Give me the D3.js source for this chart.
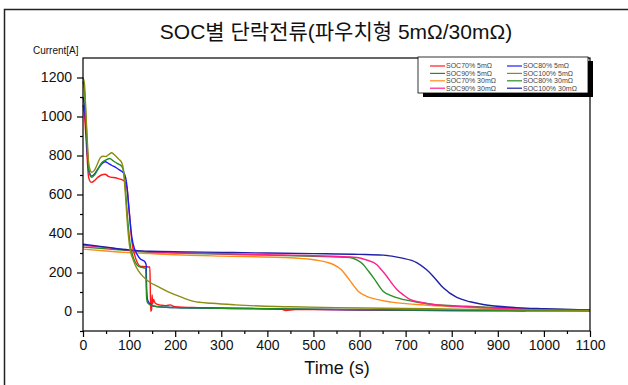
<!DOCTYPE html>
<html>
<head>
<meta charset="utf-8">
<script src="https://cdn.jsdelivr.net/npm/d3@7"></script>
<style>
  body { margin: 0; background: #fff; }
  svg { display: block; font-family: "Liberation Sans", Arial, "Noto Sans CJK KR", sans-serif; }
</style>
</head>
<body>
<div id="chart"></div>
<script>
// time (s) / current (A), one pair of arrays per curve
const t70_5 = [0, 3, 6, 9, 12, 16, 19, 25, 32, 40, 48, 55, 62, 70, 78, 84, 90, 95, 100, 106, 112, 118, 124, 135, 145, 146, 147, 149, 150, 151, 153, 156, 160, 170, 180, 190, 195, 200, 250, 300, 400, 430, 440, 460, 500, 600, 700, 800, 900, 960];
const i70_5 = [1060, 1010, 910, 790, 690, 665, 662, 672, 688, 700, 704, 693, 688, 686, 680, 676, 668, 640, 520, 360, 290, 250, 232, 230, 228, 120, 0, 12, 85, 40, 62, 45, 38, 32, 30, 34, 28, 25, 20, 17, 14, 12, 5, 10, 10, 8, 6, 4, 3, 3];

const t80_5 = [0, 3, 6, 9, 12, 16, 19, 25, 32, 40, 48, 55, 62, 70, 78, 84, 90, 95, 100, 106, 112, 118, 124, 130, 134, 137, 138, 140, 145, 150, 160, 180, 200, 300, 400, 500, 600, 700, 800, 900, 1000, 1100];
const i80_5 = [1100, 1060, 960, 830, 730, 700, 694, 705, 730, 755, 768, 760, 750, 740, 728, 719, 705, 650, 520, 380, 320, 290, 270, 262, 256, 240, 120, 60, 40, 30, 25, 22, 20, 17, 14, 11, 9, 7, 6, 5, 4, 4];

const t90_5 = [0, 3, 6, 9, 12, 16, 19, 25, 32, 40, 48, 58, 66, 74, 84, 88, 92, 97, 102, 108, 114, 120, 128, 136, 137, 138, 140, 145, 150, 160, 180, 200, 300, 400, 500, 600, 700, 800, 900, 1000, 1100];
const i90_5 = [1180, 1140, 1010, 860, 740, 695, 688, 700, 728, 760, 775, 785, 772, 760, 745, 720, 630, 470, 350, 285, 250, 232, 226, 222, 150, 70, 45, 35, 30, 25, 22, 20, 17, 14, 12, 10, 8, 7, 6, 5, 4];

const t100_5 = [0, 3, 6, 9, 12, 16, 19, 25, 32, 38, 44, 50, 56, 62, 70, 78, 84, 88, 92, 97, 102, 108, 114, 120, 130, 145, 167, 190, 215, 240, 280, 330, 384, 450, 550, 650, 750, 850, 950, 1050, 1100];
const i100_5 = [1200, 1170, 1040, 890, 770, 722, 714, 725, 760, 790, 796, 795, 805, 814, 800, 780, 764, 720, 600, 430, 320, 270, 235, 210, 180, 150, 123, 95, 72, 52, 42, 34, 28, 24, 20, 17, 14, 11, 9, 7, 6];

const t70_30 = [0, 50, 100, 145, 200, 300, 434, 507, 530, 543, 560, 572, 585, 597, 615, 637, 670, 724, 796, 870, 950, 1000];
const i70_30 = [320, 310, 302, 297, 291, 284, 277, 263, 252, 241, 215, 181, 140, 104, 78, 62, 48, 36, 26, 18, 12, 10];

const t80_30 = [0, 50, 100, 145, 200, 300, 400, 500, 579, 595, 608, 620, 630, 651, 670, 688, 720, 760, 832, 900, 1000, 1100];
const i80_30 = [330, 322, 312, 304, 300, 294, 289, 283, 277, 263, 241, 205, 174, 104, 80, 66, 50, 36, 27, 20, 12, 8];

const t90_30 = [0, 50, 100, 145, 200, 300, 400, 500, 594, 615, 637, 648, 659, 670, 681, 695, 709, 735, 760, 832, 900, 1000, 1100];
const i90_30 = [340, 328, 315, 306, 302, 296, 291, 286, 277, 264, 241, 212, 181, 145, 113, 85, 62, 46, 36, 24, 17, 11, 8];

const t100_30 = [0, 50, 100, 145, 228, 300, 400, 500, 600, 651, 690, 724, 745, 760, 781, 811, 840, 868, 941, 1000, 1050, 1100];
const i100_30 = [345, 330, 316, 309, 306, 303, 300, 297, 293, 289, 275, 251, 215, 180, 123, 72, 50, 36, 20, 14, 10, 8];

const seriesNames = ["SOC70% 5mΩ", "SOC80% 5mΩ", "SOC90% 5mΩ", "SOC100% 5mΩ",
                     "SOC70% 30mΩ", "SOC80% 30mΩ", "SOC90% 30mΩ", "SOC100% 30mΩ"];
const seriesTimes = [t70_5, t80_5, t90_5, t100_5, t70_30, t80_30, t90_30, t100_30];
const seriesCurrents = [i70_5, i80_5, i90_5, i100_5, i70_30, i80_30, i90_30, i100_30];
const seriesColors = ["#ff1a1a", "#1a1aff", "#1f8f1f", "#8c8c10",
                      "#ff8c1a", "#2a8f2a", "#ff2090", "#2020a8"];

const xTicks = d3.range(0, 1101, 100);
const yTicks = d3.range(0, 1201, 200);

const chartSizes = {
    width: 628,
    height: 385,
    left: 83,
    right: 590,
    top: 58,
    bottom: 331
};

const svg = d3.select("#chart")
    .append("svg")
    .attr("width", chartSizes.width)
    .attr("height", chartSizes.height);

// outer frame (left + top edge only, like the source screenshot)
svg.append("path")
    .attr("d", "M4.5," + chartSizes.height + "V9.5H628")
    .attr("fill", "none")
    .attr("stroke", "#222")
    .attr("stroke-width", 1.5);

const xScale = d3.scaleLinear()
    .domain([0, 1100])
    .range([chartSizes.left, chartSizes.right]);

const yScale = d3.scaleLinear()
    .domain([-100, 1300])
    .range([chartSizes.bottom, chartSizes.top]);

// curves
const line = d3.line()
    .x(d => xScale(d[0]))
    .y(d => yScale(d[1]))
    .curve(d3.curveMonotoneX);

const drawOrder = [4, 5, 6, 7, 0, 1, 2, 3];
drawOrder.forEach(k => {
    const pts = seriesTimes[k].map((t, j) => [t, seriesCurrents[k][j]]);
    svg.append("path")
        .datum(pts)
        .attr("fill", "none")
        .attr("stroke", seriesColors[k])
        .attr("stroke-width", 1.4)
        .attr("stroke-linejoin", "round")
        .attr("d", line);
});

// plot frame
svg.append("rect")
    .attr("x", chartSizes.left)
    .attr("y", chartSizes.top)
    .attr("width", chartSizes.right - chartSizes.left)
    .attr("height", chartSizes.bottom - chartSizes.top)
    .attr("fill", "none")
    .attr("stroke", "#000")
    .attr("stroke-width", 1.2);

// x axis: major + minor ticks
const xAxis = svg.append("g")
    .attr("transform", "translate(0," + chartSizes.bottom + ")");
xAxis.call(d3.axisBottom(xScale).tickValues(d3.range(50, 1100, 100)).tickSize(3).tickFormat(""));
xAxis.append("g").call(d3.axisBottom(xScale).tickValues(xTicks).tickSize(6).tickPadding(3).tickFormat(d3.format("d")));
xAxis.selectAll(".domain").remove();
xAxis.selectAll("line").attr("stroke", "#000").attr("stroke-width", 1.2);
xAxis.selectAll("text")
    .attr("fill", "#111")
    .style("font-size", "14px");

// y axis
const yAxis = svg.append("g")
    .attr("transform", "translate(" + chartSizes.left + ",0)");
yAxis.call(d3.axisLeft(yScale).tickValues(d3.range(-100, 1300, 200)).tickSize(3).tickFormat(""));
yAxis.append("g").call(d3.axisLeft(yScale).tickValues(yTicks).tickSize(6).tickPadding(5).tickFormat(d3.format("d")));
yAxis.selectAll(".domain").remove();
yAxis.selectAll("line").attr("stroke", "#000").attr("stroke-width", 1.2);
yAxis.selectAll("text")
    .attr("fill", "#111")
    .style("font-size", "14px");

// titles
svg.append("text")
    .attr("x", 336)
    .attr("y", 39)
    .attr("text-anchor", "middle")
    .style("font-size", "21px")
    .attr("fill", "#111")
    .text("SOC별 단락전류(파우치형 5mΩ/30mΩ)");

svg.append("text")
    .attr("x", 33)
    .attr("y", 54)
    .style("font-size", "10px")
    .attr("fill", "#111")
    .text("Current[A]");

svg.append("text")
    .attr("x", 337)
    .attr("y", 374)
    .attr("text-anchor", "middle")
    .style("font-size", "18px")
    .attr("fill", "#111")
    .text("Time (s)");

// legend with drop shadow
const legend = { x: 418, y: 57, w: 170, h: 36 };
svg.append("rect")
    .attr("x", legend.x + 5)
    .attr("y", legend.y + 4)
    .attr("width", legend.w)
    .attr("height", legend.h)
    .attr("fill", "#000");
svg.append("rect")
    .attr("x", legend.x)
    .attr("y", legend.y)
    .attr("width", legend.w)
    .attr("height", legend.h)
    .attr("fill", "#fff")
    .attr("stroke", "#000")
    .attr("stroke-width", 0.8);

seriesNames.forEach((name, k) => {
    const col = k % 2;
    const row = Math.floor(k / 2);
    const lx = legend.x + 12 + col * 77;
    const ly = legend.y + 9 + row * 7.4;
    svg.append("line")
        .attr("x1", lx)
        .attr("x2", lx + 15)
        .attr("y1", ly)
        .attr("y2", ly)
        .attr("stroke", seriesColors[k])
        .attr("stroke-width", 1.2);
    svg.append("text")
        .attr("x", lx + 16)
        .attr("y", ly + 2.4)
        .style("font-size", "7px")
        .attr("fill", "#444")
        .text(name);
});
</script>
</body>
</html>
